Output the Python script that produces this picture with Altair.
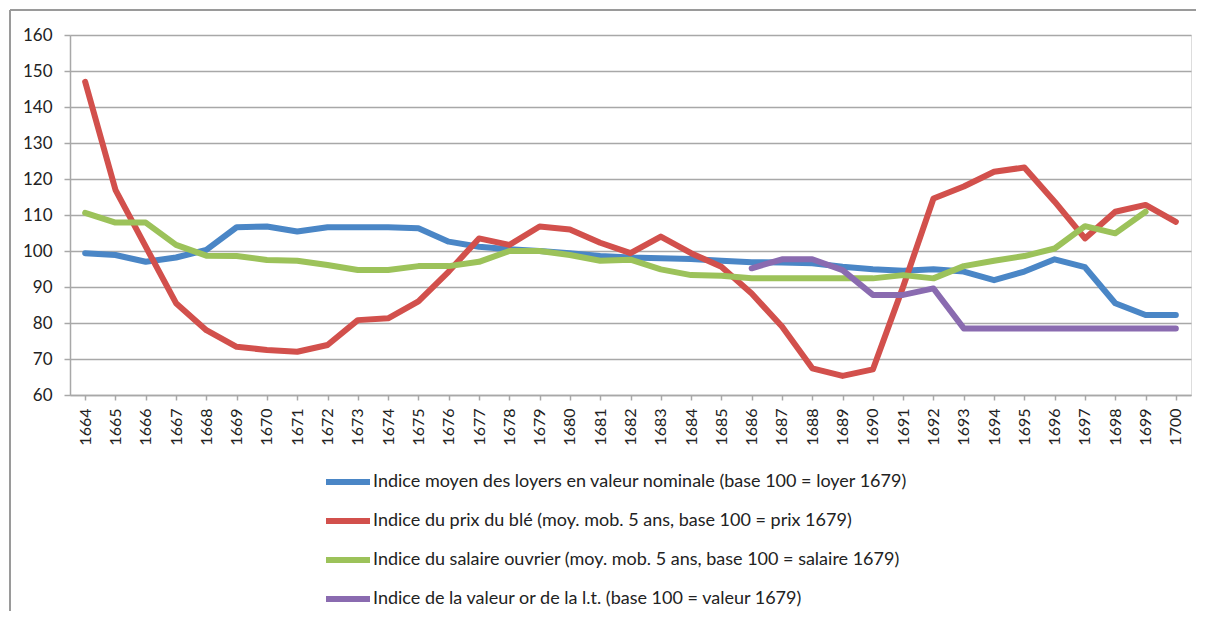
import altair as alt
import pandas as pd

years = list(range(1664, 1701))

loyers = [99.4, 98.9, 97.0, 98.2, 100.3, 106.6, 106.8, 105.4, 106.6, 106.6,
          106.6, 106.3, 102.6, 101.2, 100.5, 100.0, 99.4, 98.6, 98.2, 98.0,
          97.8, 97.3, 96.9, 96.8, 96.6, 95.6, 94.9, 94.5, 94.9, 94.3,
          91.9, 94.3, 97.7, 95.5, 85.5, 82.2, 82.2]

ble = [147.0, 117.0, 101.2, 85.5, 78.0, 73.4, 72.5, 72.0, 73.9, 80.8,
       81.3, 86.0, 94.3, 103.5, 101.7, 106.8, 106.0, 102.3, 99.4, 104.0,
       99.4, 95.6, 88.2, 79.0, 67.4, 65.3, 67.1, 90.1, 114.6, 117.9,
       122.0, 123.2, 113.7, 103.5, 110.9, 112.8, 108.1]

salaire = [110.6, 107.9, 107.9, 101.7, 98.7, 98.6, 97.5, 97.3, 96.1, 94.7,
           94.7, 95.8, 95.8, 97.0, 100.0, 100.0, 98.9, 97.3, 97.6, 94.9,
           93.3, 93.1, 92.4, 92.4, 92.4, 92.4, 92.4, 93.3, 92.4, 95.8,
           97.3, 98.6, 100.7, 106.9, 104.9, 110.9, None]

valeur_or = [None] * 22 + [95.2, 97.7, 97.7, 94.7, 87.8, 87.8, 89.6, 78.5,
                            78.5, 78.5, 78.5, 78.5, 78.5, 78.5, 78.5]

series_names = [
    "Indice moyen des loyers en valeur nominale (base 100 = loyer 1679)",
    "Indice du prix du blé (moy. mob. 5 ans, base 100 = prix 1679)",
    "Indice du salaire ouvrier (moy. mob. 5 ans, base 100 = salaire 1679)",
    "Indice de la valeur or de la l.t. (base 100 = valeur 1679)",
]
series_values = [loyers, ble, salaire, valeur_or]
series_colors = ["#4A86C6", "#D2504C", "#9CC25A", "#8A6BB0"]

rows = []
for order, (name, vals) in enumerate(zip(series_names, series_values)):
    for y, v in zip(years, vals):
        if v is not None:
            rows.append({"annee": str(y), "valeur": v, "serie": name, "ordre": order})
df = pd.DataFrame(rows)

W, H = 1121, 360
FONT = "Lato"
GRID = "#A8A8A8"

lines = alt.Chart(df).mark_line(strokeWidth=6, strokeCap="round", strokeJoin="round").encode(
    x=alt.X("annee:N", sort=[str(y) for y in years],
            axis=alt.Axis(title=None, labelAngle=-90, labelFontSize=16, labelFont=FONT,
                          labelColor="#222", tickSize=5, tickColor=GRID, tickWidth=1.5,
                          bandPosition=0, domainColor=GRID, domainWidth=1.5,
                          labelPadding=8, grid=False),
            scale=alt.Scale(paddingInner=0, paddingOuter=0)),
    y=alt.Y("valeur:Q", scale=alt.Scale(domain=[60, 160], nice=False, zero=False),
            axis=alt.Axis(title=None, values=list(range(60, 161, 10)), labelFontSize=17,
                          labelFont=FONT, labelColor="#222", tickSize=6, tickColor=GRID,
                          tickWidth=1.5, labelPadding=12, domainColor=GRID, domainWidth=1.5,
                          gridColor=GRID, gridWidth=1.5)),
    color=alt.Color("serie:N", sort=series_names,
                    scale=alt.Scale(domain=series_names, range=series_colors),
                    legend=alt.Legend(title=None, orient="none", legendX=253, legendY=422,
                                      direction="vertical", symbolType="stroke",
                                      symbolSize=1936, symbolStrokeWidth=6,
                                      labelFont=FONT, labelFontSize=18, labelColor="#222",
                                      labelLimit=800, rowPadding=2, labelOffset=0)),
    order=alt.Order("ordre:Q"),
    detail="serie:N",
)

frame_left = alt.Chart(df).mark_rule(color="#9A9A9A", strokeWidth=2).encode(
    x=alt.value(-60), y=alt.value(-25), y2=alt.value(H + 300))
frame_top = alt.Chart(df).mark_rule(color="#9A9A9A", strokeWidth=2).encode(
    x=alt.value(-60), x2=alt.value(W + 5), y=alt.value(-25))

chart = alt.layer(frame_left, frame_top, lines).properties(
    width=W, height=H,
    autosize=alt.AutoSizeParams(type="none"),
    padding={"left": 62, "top": 27, "right": 5, "bottom": 216},
).configure_view(stroke="transparent", strokeWidth=0).configure(background="white")

chart.save("out.html", embed_options={"renderer": "svg", "actions": False})
